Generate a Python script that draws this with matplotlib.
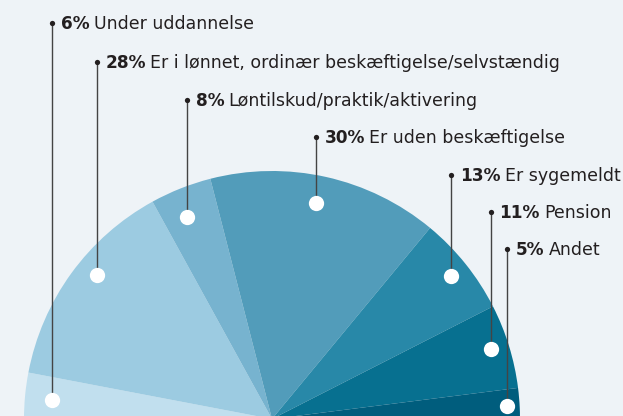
import matplotlib
matplotlib.use("Agg")
import matplotlib.pyplot as plt
import numpy as np

# ---- data ----
categories = ["Under uddannelse",
              "Er i lønnet, ordinær beskæftigelse/selvstændig",
              "Løntilskud/praktik/aktivering",
              "Er uden beskæftigelse",
              "Er sygemeldt",
              "Pension",
              "Andet"]
shares = [6, 28, 8, 30, 13, 11, 5]
pct_labels = ["6%", "28%", "8%", "30%", "13%", "11%", "5%"]

# ---- style / layout ----
colors = ["#c1dfee", "#9ccbe1", "#77b3cf", "#529cba", "#2888a8", "#077090", "#005d7d"]
bg = "#eef3f7"
text_color = "#231f20"
line_color = "#444444"
label_y_top = [23, 61.5, 99.5, 137, 175, 211.5, 249]      # label rows, px from top
dot_r_frac = [0.89, 0.915, 0.885, 0.89, 0.925, 0.925, 0.95]  # white dot radial position
dot_a_frac = [0.45, 0.57, 0.42, 0.48, 0.50, 0.47, 0.44]      # position within the slice

W, H = 623, 416
fig = plt.figure(figsize=(W / 100, H / 100), dpi=100, facecolor=bg)
ax = fig.add_axes([0, 0, 1, 1])
ax.set_facecolor(bg)

cx, cy, R = 272, H - 419, 248
filler = 200 - sum(shares)  # half-pie: 100% spans 180 degrees
wedges, _ = ax.pie(shares + [filler], colors=colors + ["none"], startangle=180,
                   counterclock=False, center=(cx, cy), radius=R,
                   wedgeprops=dict(linewidth=0), frame=True)
wedges[-1].set_visible(False)
ax.set_xlim(0, W)
ax.set_ylim(0, H)
ax.set_aspect("equal")
ax.axis("off")

pct_texts = []
for i, w in enumerate(wedges[:-1]):
    # slices run clockwise from the left: theta2 is the start edge
    ang = np.deg2rad(w.theta2 - dot_a_frac[i] * (w.theta2 - w.theta1))
    r = R * dot_r_frac[i]
    x = cx + r * np.cos(ang)
    y = cy + r * np.sin(ang)
    ly = H - label_y_top[i]
    ax.plot([x, x], [y, ly], color=line_color, lw=1.0, zorder=3, solid_capstyle="butt")
    ax.plot([x], [y], "o", ms=11, color="white", mec="none", zorder=4)
    ax.plot([x], [ly], "o", ms=3.8, color=text_color, mec="none", zorder=4)
    t = ax.text(x + 9, ly - 6, pct_labels[i], fontsize=12.2, fontweight="bold",
                color=text_color, va="baseline", ha="left", family="DejaVu Sans")
    pct_texts.append((t, ly))

fig.canvas.draw()
renderer = fig.canvas.get_renderer()
inv = ax.transData.inverted()
for i, (t, ly) in enumerate(pct_texts):
    bb = t.get_window_extent(renderer)
    x1 = inv.transform((bb.x1, bb.y0))[0]
    ax.text(x1 + 4, ly - 6, categories[i], fontsize=12.5, color=text_color,
            va="baseline", ha="left", family="DejaVu Sans")

fig.savefig("out.png", dpi=100, facecolor=bg)
